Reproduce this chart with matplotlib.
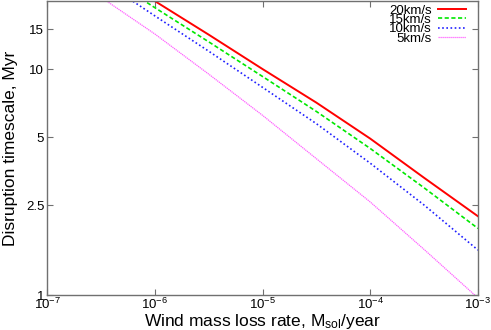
import numpy as np
import matplotlib
matplotlib.use('Agg')
import matplotlib.pyplot as plt
from matplotlib.ticker import FixedLocator, FixedFormatter, NullLocator

# wind mass loss rate, Msol/year (log10)
log_mdot = [-6.5, -6.0, -5.5, -5.0, -4.5, -4.0, -3.5, -3.0]

# disruption timescale, Myr
t_20 = [28.3, 20.0, 14.2, 10.0, 7.1, 4.92, 3.3, 2.23]
t_15 = [26.7, 18.7, 13.2, 9.27, 6.49, 4.45, 2.98, 1.97]
t_10 = [24.8, 17.2, 12.0, 8.3, 5.73, 3.83, 2.50, 1.58]
t_5 = [20.8, 14.3, 9.5, 6.24, 4.01, 2.58, 1.59, 0.97]

ytick_vals = [1, 2.5, 5, 10, 15]
ytick_labels = ['1', '2.5', '5', '10', '15']
xtick_vals = [1e-7, 1e-6, 1e-5, 1e-4, 1e-3]
xtick_labels = [r'$10^{-7}$', r'$10^{-6}$', r'$10^{-5}$', r'$10^{-4}$', r'$10^{-3}$']

plt.rcParams['font.family'] = ['Liberation Sans', 'DejaVu Sans']
plt.rcParams['mathtext.fontset'] = 'custom'
plt.rcParams['mathtext.rm'] = 'Liberation Sans'
plt.rcParams['mathtext.it'] = 'Liberation Sans'
plt.rcParams['mathtext.default'] = 'regular'

fig = plt.figure(figsize=(4.91, 3.30), dpi=100)
ax = fig.add_axes([47 / 491, 1 - 295 / 330, (478 - 47) / 491, 294 / 330])

x = 10.0 ** np.array(log_mdot)
ax.plot(x, t_20, color='#ff0000', lw=1.4, ls='-', label='20km/s')
ax.plot(x, t_15, color='#00e800', lw=1.2, ls=(0, (2.5, 1.5)), label='15km/s')
ax.plot(x, t_10, color='#2020ff', lw=1.2, ls=(0, (1, 1.5)), label='10km/s')
ax.plot(x, t_5, color='#ff60ff', lw=0.9, ls=(0, (1, 0.6)), label='5km/s')

ax.set_xscale('log')
ax.set_yscale('log')
ax.set_xlim(1e-7, 1e-3)
ax.set_ylim(1, 20)

ax.xaxis.set_major_locator(FixedLocator(xtick_vals))
ax.xaxis.set_major_formatter(FixedFormatter(xtick_labels))
ax.xaxis.set_minor_locator(NullLocator())
ax.yaxis.set_major_locator(FixedLocator(ytick_vals))
ax.yaxis.set_major_formatter(FixedFormatter(ytick_labels))
ax.yaxis.set_minor_locator(NullLocator())

ax.tick_params(which='both', direction='in', top=True, right=True,
               length=4, width=0.8, color='#707070', labelsize=9.5, pad=2)
ax.tick_params(axis='x', pad=1)
for s in ax.spines.values():
    s.set_color('#707070')
    s.set_linewidth(1.0)

ax.set_xlabel(r'Wind mass loss rate, M$_{sol}$/year', fontsize=12.5, labelpad=0)
ax.set_ylabel('Disruption timescale, Myr', fontsize=12.5, labelpad=6)

# markerfirst=False right-aligns the labels against the line samples
ax.legend(loc='upper right', frameon=False, markerfirst=False,
          fontsize=9.5, handlelength=2.1, handletextpad=0.45,
          labelspacing=-0.22, borderaxespad=0.2,
          bbox_to_anchor=(0.99, 1.015))

fig.savefig('out.png', dpi=100)
